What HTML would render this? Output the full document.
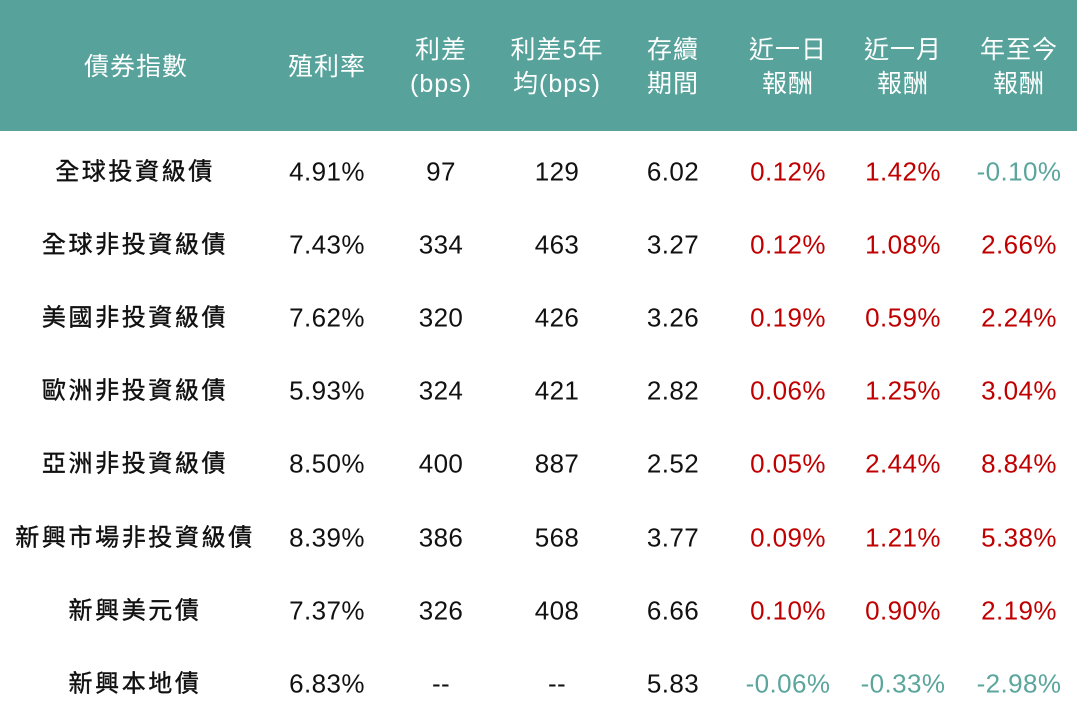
<!DOCTYPE html>
<html><head><meta charset="utf-8"><style>
body{margin:0;width:1077px;height:718px;background:#fff;overflow:hidden;position:relative;font-family:"Liberation Sans","Noto Sans CJK TC",sans-serif}
.hd{position:absolute;left:0;top:0;width:1077px;height:131px;background:#57a39b}
.c{position:absolute;transform:translate(-50%,-50%);white-space:nowrap;text-align:center}
.h{color:#fff;font-size:25px;line-height:34px;letter-spacing:1px}
.n{color:#111;font-size:24px;letter-spacing:2.6px;-webkit-text-stroke:0.4px #111}
.v{color:#111;font-size:26px;letter-spacing:0.4px}
.r{color:#c00000}.g{color:#5aa59c}
</style></head><body>
<div class="hd"></div>
<div class="c h" style="left:136px;top:67px">債券指數</div>
<div class="c h" style="left:327px;top:67px">殖利率</div>
<div class="c h" style="left:441px;top:67px">利差<br>(bps)</div>
<div class="c h" style="left:557px;top:67px">利差5年<br>均(bps)</div>
<div class="c h" style="left:673px;top:67px">存續<br>期間</div>
<div class="c h" style="left:788px;top:67px">近一日<br>報酬</div>
<div class="c h" style="left:903px;top:67px">近一月<br>報酬</div>
<div class="c h" style="left:1019px;top:67px">年至今<br>報酬</div>
<script>
var rows=[
["全球投資級債","4.91%","97","129","6.02","0.12%","1.42%","-0.10%"],
["全球非投資級債","7.43%","334","463","3.27","0.12%","1.08%","2.66%"],
["美國非投資級債","7.62%","320","426","3.26","0.19%","0.59%","2.24%"],
["歐洲非投資級債","5.93%","324","421","2.82","0.06%","1.25%","3.04%"],
["亞洲非投資級債","8.50%","400","887","2.52","0.05%","2.44%","8.84%"],
["新興市場非投資級債","8.39%","386","568","3.77","0.09%","1.21%","5.38%"],
["新興美元債","7.37%","326","408","6.66","0.10%","0.90%","2.19%"],
["新興本地債","6.83%","--","--","5.83","-0.06%","-0.33%","-2.98%"]];
var xs=[136,327,441,557,673,788,903,1019],h="";
rows.forEach(function(r,i){var y=170+i*73.1;
r.forEach(function(t,j){var cls=j==0?"n":"v";
if(j>=5)cls+=t.charAt(0)=="-"?" g":" r";
var yy=j==0?y-1:y+2;
h+='<div class="c '+cls+'" style="left:'+(j==0?xs[0]-1:xs[j])+'px;top:'+yy+'px">'+t+'</div>';});});
document.write(h);
</script>
</body></html>
